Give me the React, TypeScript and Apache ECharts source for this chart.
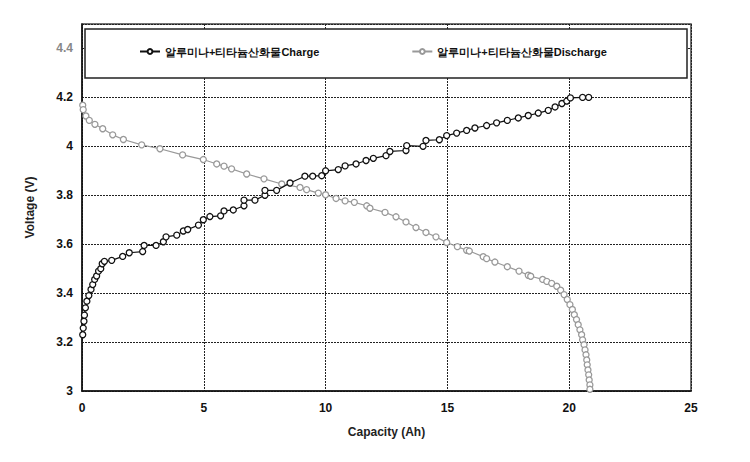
import React, { useEffect, useRef } from "react";
import * as echarts from "echarts";

const chargeName = "알루미나+티타늄산화물Charge";
const dischargeName = "알루미나+티타늄산화물Discharge";

const chargeCap = [0.03, 0.05, 0.08, 0.1, 0.14, 0.2, 0.28, 0.37, 0.44, 0.52, 0.6, 0.68, 0.77, 0.83, 0.92, 1.22, 1.67, 1.94, 2.49, 2.55, 3.04, 3.34, 3.45, 3.89, 4.16, 4.34, 4.78, 4.98, 5.25, 5.69, 5.83, 6.21, 6.65, 6.65, 7.1, 7.51, 7.51, 7.99, 8.54, 9.15, 9.47, 9.84, 10.0, 10.52, 10.8, 11.25, 11.66, 11.96, 12.48, 12.64, 13.3, 13.33, 14.0, 14.12, 14.67, 14.97, 15.38, 15.79, 16.13, 16.61, 17.02, 17.46, 17.91, 18.32, 18.73, 19.14, 19.42, 19.7, 19.9, 20.05, 20.55, 20.8];
const chargeV = [3.23, 3.257, 3.285, 3.31, 3.34, 3.367, 3.39, 3.415, 3.435, 3.456, 3.47, 3.49, 3.5, 3.52, 3.53, 3.534, 3.55, 3.565, 3.57, 3.595, 3.595, 3.61, 3.63, 3.637, 3.654, 3.66, 3.678, 3.7, 3.713, 3.716, 3.736, 3.74, 3.757, 3.78, 3.78, 3.8, 3.82, 3.82, 3.85, 3.878, 3.878, 3.88, 3.9, 3.905, 3.92, 3.928, 3.942, 3.951, 3.962, 3.979, 3.983, 4.003, 4.0, 4.024, 4.027, 4.044, 4.054, 4.065, 4.075, 4.085, 4.096, 4.106, 4.116, 4.126, 4.136, 4.147, 4.161, 4.175, 4.185, 4.198, 4.2, 4.2];

const dischargeCap = [0.03, 0.05, 0.16, 0.3, 0.53, 0.85, 1.26, 1.7, 2.45, 3.2, 4.13, 4.98, 5.53, 5.83, 6.14, 6.76, 7.47, 8.2, 8.95, 9.22, 9.7, 10.0, 10.43, 10.8, 11.18, 11.69, 11.82, 12.44, 12.89, 13.3, 13.71, 14.12, 14.53, 14.97, 15.41, 15.79, 15.9, 16.47, 16.61, 16.95, 17.46, 17.94, 18.32, 18.42, 18.91, 19.08, 19.28, 19.49, 19.65, 19.79, 19.92, 20.03, 20.13, 20.21, 20.3, 20.37, 20.44, 20.51, 20.55, 20.61, 20.65, 20.69, 20.72, 20.74, 20.77, 20.8, 20.82, 20.85, 20.85];
const dischargeV = [4.168, 4.15, 4.124, 4.106, 4.09, 4.072, 4.047, 4.028, 4.006, 3.99, 3.965, 3.946, 3.928, 3.919, 3.908, 3.887, 3.867, 3.846, 3.832, 3.823, 3.809, 3.802, 3.787, 3.777, 3.771, 3.757, 3.747, 3.73, 3.712, 3.691, 3.668, 3.648, 3.63, 3.607, 3.59, 3.575, 3.572, 3.549, 3.541, 3.527, 3.508, 3.49, 3.473, 3.469, 3.456, 3.448, 3.44, 3.428, 3.412, 3.394, 3.374, 3.353, 3.333, 3.312, 3.292, 3.271, 3.25, 3.23, 3.209, 3.189, 3.168, 3.148, 3.127, 3.107, 3.086, 3.066, 3.045, 3.025, 3.007];

const xAxisName = "Capacity (Ah)";
const yAxisName = "Voltage (V)";

const FONT = "'Liberation Sans', Arial, sans-serif";

export default function App() {
  const ref = useRef<HTMLDivElement>(null);
  useEffect(() => {
    if (!ref.current) return;
    const chart = echarts.init(ref.current, undefined, { renderer: "svg" });
    const charge = chargeCap.map((c, i) => [c, chargeV[i]]);
    const discharge = dischargeCap.map((c, i) => [c, dischargeV[i]]);
    chart.setOption({
      animation: false,
      backgroundColor: "#ffffff",
      textStyle: { fontFamily: FONT },
      grid: {
        left: 82,
        right: 59,
        top: 24,
        bottom: 71,
        show: true,
        borderColor: "#444",
        borderWidth: 1.5,
        backgroundColor: "transparent",
      },
      graphic: [
        {
          type: "rect",
          z: 50,
          shape: { x: 85, y: 29, width: 602, height: 49 },
          style: { fill: "#ffffff", stroke: "#222", lineWidth: 1.5 },
        },
      ],
      legend: {
        z: 60,
        left: 134,
        top: 41,
        itemGap: 92,
        itemWidth: 20,
        itemHeight: 6,
        itemTextGap: 4,
        textStyle: { fontFamily: FONT, fontSize: 11, fontWeight: "bold", color: "#111" },
        data: [chargeName, dischargeName],
      },
      xAxis: {
        type: "value",
        min: 0,
        max: 25,
        interval: 5,
        name: xAxisName,
        nameLocation: "middle",
        nameGap: 35,
        nameTextStyle: { fontFamily: FONT, fontSize: 12, fontWeight: "bold", color: "#222" },
        axisLine: { show: true, lineStyle: { color: "#111", width: 1.5 } },
        axisTick: { show: false },
        axisLabel: { margin: 11, fontFamily: FONT, fontSize: 12, fontWeight: "bold", color: "#111" },
        splitLine: { show: true, lineStyle: { color: "#222", type: [2, 1], width: 1 } },
      },
      yAxis: {
        type: "value",
        min: 3,
        max: 4.5,
        interval: 0.2,
        name: yAxisName,
        nameLocation: "middle",
        nameGap: 46,
        nameRotate: 90,
        nameTextStyle: { fontFamily: FONT, fontSize: 12, fontWeight: "bold", color: "#222" },
        axisLine: { show: true, lineStyle: { color: "#111", width: 1.5 } },
        axisTick: { show: false },
        axisLabel: {
          margin: 9,
          showMaxLabel: false,
          fontFamily: FONT,
          fontSize: 12,
          fontWeight: "bold",
          color: (v: any) => (Math.abs(Number(v) - 4.4) < 0.01 ? "#888" : "#111"),
        },
        splitLine: { show: true, lineStyle: { color: "#222", type: [2, 1], width: 1 } },
      },
      series: [
        {
          name: chargeName,
          type: "line",
          data: charge,
          symbol: "circle",
          symbolSize: 6,
          showAllSymbol: true,
          z: 3,
          lineStyle: { color: "#111", width: 1.2 },
          itemStyle: { color: "#ffffff", borderColor: "#111", borderWidth: 1.3 },
        },
        {
          name: dischargeName,
          type: "line",
          data: discharge,
          symbol: "circle",
          symbolSize: 6,
          showAllSymbol: true,
          z: 2,
          lineStyle: { color: "#999", width: 1.2 },
          itemStyle: { color: "#ffffff", borderColor: "#999", borderWidth: 1.3 },
        },
      ],
    });
    return () => chart.dispose();
  }, []);
  return (
    <div
      ref={ref}
      style={{ position: "fixed", left: 0, top: 0, width: 750, height: 462 }}
    />
  );
}
